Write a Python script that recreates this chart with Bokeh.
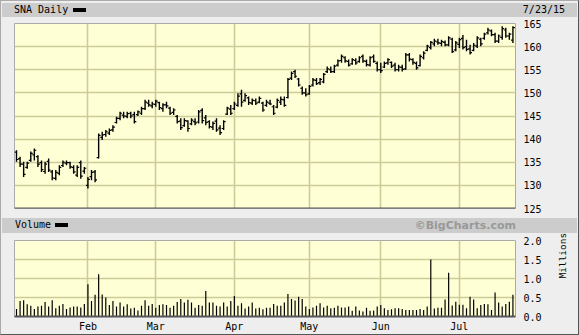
import math
import numpy as np
import pandas as pd
from bokeh.plotting import figure
from bokeh.layouts import column
from bokeh.models import Div, FixedTicker, Range1d, Span, PrintfTickFormatter
from bokeh.embed import file_html
from bokeh.resources import INLINE

title_text = "SNA Daily"
as_of_text = "7/23/15"
volume_title = "Volume"
credit_text = "\u00a9BigCharts.com"
volume_unit = "Millions"

holidays = ["2015-01-01", "2015-01-19", "2015-02-16", "2015-04-03", "2015-05-25", "2015-07-03"]
dates = pd.bdate_range("2015-01-02", "2015-07-23").difference(pd.to_datetime(holidays))

price_high = [137.6, 136.2, 135.1, 135.1, 137.3, 138.0, 136.5, 135.4, 135.1, 135.8,
              133.3, 133.3, 134.35, 135.4, 135.4, 135.1, 134.35, 134.35, 135.4, 134.0,
              131.8, 133.3, 133.3, 141.2, 141.6, 142.0, 142.3, 143.0, 144.85, 145.9,
              145.9, 145.9, 145.9, 145.9, 146.2, 147.0, 148.5, 148.5, 148.1, 148.5,
              148.1, 147.75, 148.1, 147.0, 146.7, 145.2, 144.5, 144.5, 144.1, 144.5,
              144.5, 146.3, 146.7, 145.2, 144.1, 143.8, 144.5, 143.0, 144.1, 147.0,
              147.4, 148.1, 149.9, 150.65, 149.9, 149.2, 148.8, 148.8, 149.2, 148.1,
              148.5, 148.5, 147.4, 148.8, 149.2, 149.2, 153.2, 154.6, 155.0, 153.2,
              151.4, 151.0, 151.7, 153.2, 153.2, 153.2, 154.3, 155.7, 155.7, 156.1,
              157.2, 158.3, 157.9, 157.2, 157.5, 157.5, 157.9, 158.3, 157.2, 157.9,
              158.3, 156.8, 156.5, 156.8, 157.5, 156.8, 156.5, 156.1, 156.1, 158.6,
              158.6, 157.5, 156.8, 158.3, 159.0, 160.4, 161.2, 161.7, 161.7, 161.5,
              161.3, 162.25, 161.9, 161.2, 161.9, 162.5, 161.5, 160.4, 160.8, 162.25,
              161.9, 163.0, 164.06, 163.7, 163.0, 162.6, 164.4, 164.06, 163.0, 164.4]
price_low = [135.1, 134.0, 131.8, 133.6, 135.1, 135.4, 134.0, 132.9, 132.5, 132.9,
             131.1, 131.1, 132.2, 134.0, 134.35, 133.6, 132.5, 131.8, 131.45, 132.5,
             129.3, 131.1, 130.7, 135.8, 139.8, 140.5, 140.9, 141.6, 143.4, 144.1,
             144.5, 144.5, 144.5, 143.4, 145.0, 145.2, 146.3, 147.0, 146.7, 147.0,
             146.3, 145.9, 146.7, 145.2, 145.2, 143.4, 142.0, 142.7, 141.6, 143.0,
             143.0, 143.4, 143.4, 143.0, 142.3, 142.0, 141.6, 140.9, 142.0, 145.2,
             145.2, 146.3, 147.0, 147.0, 148.1, 147.4, 147.4, 147.4, 147.75, 145.9,
             147.0, 147.4, 145.2, 146.7, 147.4, 147.0, 148.8, 152.8, 153.2, 151.4,
             149.6, 149.2, 149.6, 151.4, 151.7, 151.7, 152.1, 154.3, 154.3, 154.3,
             155.7, 156.5, 156.5, 155.7, 156.1, 156.1, 156.5, 156.5, 155.7, 155.7,
             156.5, 154.6, 154.3, 155.4, 156.1, 155.4, 154.6, 154.6, 154.6, 155.0,
             156.8, 156.1, 155.0, 155.7, 157.2, 159.0, 159.4, 160.1, 160.4, 160.1,
             160.1, 160.1, 158.6, 159.0, 159.7, 159.4, 159.0, 158.3, 159.0, 159.7,
             160.1, 161.5, 162.6, 162.25, 160.8, 160.8, 161.5, 161.9, 161.5, 160.8]
price_open = [137.2, 135.8, 134.6, 133.9, 135.4, 136.6, 136.2, 134.9, 133.0, 135.2,
              132.9, 131.5, 132.6, 134.3, 134.8, 134.9, 133.9, 132.2, 134.9, 133.1,
              130.0, 131.9, 132.9, 136.0, 140.4, 141.0, 141.3, 142.0, 143.6, 144.5,
              145.2, 144.9, 145.6, 145.3, 145.3, 145.6, 146.6, 147.8, 147.2, 147.5,
              147.9, 146.6, 147.4, 146.7, 145.8, 144.9, 143.9, 142.9, 143.9, 143.3,
              143.8, 143.7, 146.2, 144.6, 143.8, 142.6, 143.9, 142.4, 142.3, 145.4,
              146.5, 146.6, 147.3, 149.8, 148.4, 148.9, 147.8, 148.3, 148.0, 147.8,
              147.3, 147.8, 147.0, 146.9, 148.0, 148.5, 149.0, 153.2, 154.6, 153.0,
              151.0, 150.0, 149.8, 151.7, 152.7, 152.2, 152.4, 154.6, 155.0, 154.6,
              156.0, 157.0, 157.6, 156.8, 156.3, 157.0, 156.8, 157.9, 156.8, 156.0,
              157.8, 156.4, 155.0, 155.6, 156.5, 156.6, 156.0, 155.0, 155.5, 155.2,
              158.2, 157.2, 156.4, 155.9, 157.6, 159.2, 159.8, 160.6, 161.0, 160.7,
              160.9, 160.4, 161.6, 159.3, 160.5, 161.8, 160.0, 159.5, 159.2, 160.1,
              161.6, 161.8, 163.0, 163.4, 162.6, 161.2, 162.0, 163.6, 162.3, 161.4]
price_close = [135.6, 134.6, 132.4, 134.8, 136.9, 137.6, 134.6, 133.4, 134.6, 133.3,
               131.6, 132.8, 133.9, 135.0, 134.9, 134.0, 132.9, 133.9, 132.0, 133.7,
               131.3, 132.8, 131.2, 140.8, 140.9, 141.6, 141.9, 142.6, 144.5, 145.6,
               145.0, 145.5, 145.0, 143.8, 145.9, 146.6, 148.0, 147.4, 147.6, 148.2,
               146.8, 147.4, 147.2, 145.6, 146.3, 143.8, 142.5, 144.0, 142.3, 144.1,
               143.5, 145.9, 144.0, 143.6, 142.7, 143.4, 142.0, 141.4, 143.8, 146.7,
               145.6, 147.6, 149.3, 148.0, 149.4, 147.9, 148.4, 147.8, 148.8, 146.3,
               148.0, 147.6, 145.6, 148.4, 148.6, 147.3, 152.9, 154.2, 153.6, 151.7,
               150.0, 149.6, 151.4, 152.8, 152.0, 152.9, 154.0, 155.2, 154.6, 155.8,
               156.9, 157.9, 156.9, 156.0, 157.2, 156.5, 157.6, 156.9, 156.1, 157.6,
               156.8, 155.0, 154.8, 156.4, 157.2, 155.8, 155.0, 155.6, 155.1, 158.2,
               157.3, 156.6, 155.4, 157.9, 158.6, 160.1, 160.9, 161.2, 160.8, 161.1,
               160.4, 161.9, 158.9, 160.8, 161.5, 159.8, 159.4, 158.7, 160.3, 161.9,
               160.6, 162.7, 163.6, 162.6, 161.2, 162.3, 163.9, 162.3, 162.7, 164.1]
volume_millions = [0.20, 0.41, 0.43, 0.32, 0.28, 0.20, 0.26, 0.28, 0.38, 0.26,
                   0.43, 0.22, 0.28, 0.33, 0.20, 0.24, 0.26, 0.26, 0.24, 0.33,
                   0.85, 0.41, 0.57, 1.11, 0.58, 0.50, 0.30, 0.41, 0.26, 0.37,
                   0.26, 0.32, 0.21, 0.23, 0.16, 0.28, 0.43, 0.28, 0.33, 0.23,
                   0.30, 0.32, 0.30, 0.23, 0.28, 0.38, 0.46, 0.37, 0.44, 0.37,
                   0.23, 0.30, 0.28, 0.67, 0.37, 0.37, 0.28, 0.26, 0.37, 0.26,
                   0.41, 0.54, 0.28, 0.35, 0.21, 0.26, 0.37, 0.21, 0.23, 0.19,
                   0.23, 0.23, 0.33, 0.28, 0.28, 0.37, 0.59, 0.46, 0.42, 0.52,
                   0.46, 0.26, 0.20, 0.24, 0.28, 0.35, 0.24, 0.28, 0.22, 0.23,
                   0.28, 0.24, 0.24, 0.26, 0.15, 0.26, 0.16, 0.13, 0.23, 0.15,
                   0.16, 0.26, 0.30, 0.22, 0.17, 0.19, 0.22, 0.22, 0.20, 0.17,
                   0.17, 0.17, 0.17, 0.20, 0.17, 0.26, 1.50, 0.21, 0.23, 0.23,
                   0.45, 1.15, 0.29, 0.39, 0.31, 0.31, 0.22, 0.52, 0.45, 0.22,
                   0.30, 0.33, 0.32, 0.17, 0.63, 0.37, 0.26, 0.33, 0.39, 0.57]
price_ticks = [125, 130, 135, 140, 145, 150, 155, 160, 165]
volume_ticks = [0.0, 0.5, 1.0, 1.5, 2.0]

n = len(dates)
idx = np.arange(n)
month_starts = [i for i in range(1, n) if dates[i].month != dates[i - 1].month]
month_labels = {i: dates[i].strftime("%b") for i in month_starts}

MONO = "DejaVu Sans Mono"
BG = "#EEEEEE"
PLOT_BG = "#FFFFD6"
GRID = "#CCCC99"
BAR_GRAY = "#CCCCCC"

xr = Range1d(-0.56, 139.72)

# ---- price panel ----
p = figure(width=577, height=201, x_range=xr, y_range=Range1d(125, 165),
           x_axis_location=None, y_axis_location="right",
           output_backend="svg", toolbar_location=None,
           min_border_left=13, min_border_right=63, min_border_top=6, min_border_bottom=10,
           background_fill_color=PLOT_BG, border_fill_color=BG,
           outline_line_color="#AAAAAA")
p.yaxis.ticker = FixedTicker(ticks=price_ticks)
p.yaxis.major_tick_out = 0
p.yaxis.major_tick_in = 0
p.yaxis.minor_tick_out = 0
p.yaxis.minor_tick_in = 0
p.yaxis.axis_line_color = None
p.yaxis.major_label_standoff = 8
p.yaxis.major_label_text_font = MONO
p.yaxis.major_label_text_font_size = "10px"
p.yaxis.major_label_text_color = "#000000"
p.xgrid.ticker = FixedTicker(ticks=month_starts)
p.ygrid.ticker = FixedTicker(ticks=price_ticks)
p.grid.grid_line_color = GRID
p.grid.grid_line_width = 1.6

p.segment(x0=idx, y0=price_low, x1=idx, y1=price_high, line_color="black", line_width=1.4)
p.segment(x0=idx - 0.55, y0=price_open, x1=idx, y1=price_open, line_color="black", line_width=1.2)
p.segment(x0=idx, y0=price_close, x1=idx + 0.55, y1=price_close, line_color="black", line_width=1.2)
p.add_layout(Span(location=125, dimension="width", line_color="#555555", line_width=2))

# ---- volume panel ----
v = figure(width=577, height=101, x_range=xr, y_range=Range1d(0, 2),
           y_axis_location="right", output_backend="svg", toolbar_location=None,
           min_border_left=13, min_border_right=63, min_border_top=7, min_border_bottom=17,
           background_fill_color=PLOT_BG, border_fill_color=BG,
           outline_line_color="#AAAAAA")
v.xaxis.ticker = FixedTicker(ticks=month_starts)
v.xaxis.major_label_overrides = month_labels
v.xaxis.major_tick_out = 0
v.xaxis.major_tick_in = 0
v.xaxis.minor_tick_out = 0
v.xaxis.minor_tick_in = 0
v.xaxis.axis_line_color = "#555555"
v.xaxis.axis_line_width = 2
v.xaxis.major_label_standoff = 4
v.xaxis.major_label_text_font = MONO
v.xaxis.major_label_text_font_size = "10px"
v.xaxis.major_label_text_color = "#000000"
v.yaxis.ticker = FixedTicker(ticks=volume_ticks)
v.yaxis.formatter = PrintfTickFormatter(format="%.1f")
v.yaxis.major_tick_out = 0
v.yaxis.major_tick_in = 0
v.yaxis.minor_tick_out = 0
v.yaxis.minor_tick_in = 0
v.yaxis.axis_line_color = None
v.yaxis.major_label_standoff = 8
v.yaxis.major_label_text_font = MONO
v.yaxis.major_label_text_font_size = "10px"
v.yaxis.major_label_text_color = "#000000"
v.yaxis.axis_label = volume_unit
v.yaxis.axis_label_orientation = math.pi / 2
v.yaxis.axis_label_text_font = MONO
v.yaxis.axis_label_text_font_size = "9.5px"
v.yaxis.axis_label_text_font_style = "normal"
v.yaxis.axis_label_text_color = "#000000"
v.yaxis.axis_label_standoff = 18
v.xgrid.ticker = FixedTicker(ticks=month_starts)
v.ygrid.ticker = FixedTicker(ticks=volume_ticks)
v.grid.grid_line_color = GRID
v.grid.grid_line_width = 1.6

v.segment(x0=idx, y0=0, x1=idx, y1=volume_millions, line_color="black", line_width=1.2)

# ---- header bars ----
txt = f"font-family:'{MONO}';font-size:10px;color:#000;position:absolute;line-height:14px;"
head1 = f"""
<div style="position:relative;width:577px;height:16px;background:{BG};overflow:hidden;">
  <div style="position:absolute;left:1px;top:2px;width:575px;height:14px;background:{BAR_GRAY};"></div>
  <div style="{txt}left:13px;top:2px;">{title_text}</div>
  <div style="position:absolute;left:72px;top:7px;width:13px;height:3.5px;background:#000;"></div>
  <div style="{txt}right:13px;top:2px;">{as_of_text}</div>
</div>"""
head2 = f"""
<div style="position:relative;width:577px;height:15px;background:{BG};overflow:hidden;">
  <div style="position:absolute;left:1px;top:0px;width:575px;height:15px;background:{BAR_GRAY};"></div>
  <div style="{txt}left:14px;top:0px;">{volume_title}</div>
  <div style="position:absolute;left:54px;top:5px;width:13px;height:4px;background:#000;"></div>
  <div style="position:absolute;right:62px;top:0px;line-height:15px;font-family:'DejaVu Sans';font-weight:bold;font-size:11px;color:#999999;">{credit_text}</div>
</div>"""
d1 = Div(text=head1, width=577, height=16, margin=0, styles={"overflow": "hidden"})
d2 = Div(text=head2, width=577, height=15, margin=0, styles={"overflow": "hidden"})

layout = column(d1, p, d2, v, spacing=0,
                styles={"border-top": "1px solid #AAAAAA", "border-left": "1px solid #AAAAAA",
                        "border-right": "1px solid #555555", "border-bottom": "1px solid #555555",
                        "background-color": BG})

open("out.html", "w").write(file_html(layout, INLINE, title="SNA Daily"))
